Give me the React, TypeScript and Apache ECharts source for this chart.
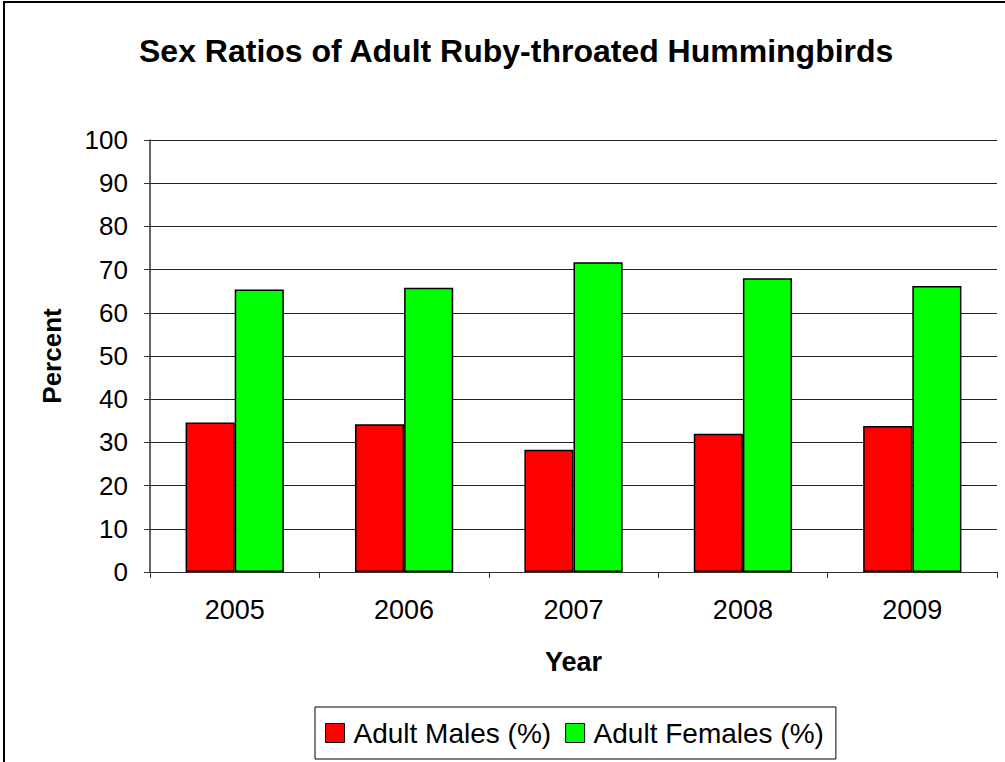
import React, { useEffect, useRef } from "react";
import * as echarts from "echarts";

const years = ["2005", "2006", "2007", "2008", "2009"];
const males = [34.6, 34.2, 28.3, 32.0, 33.8];
const females = [65.4, 65.8, 71.7, 68.0, 66.2];
const seriesNames = ["Adult Males (%)", "Adult Females (%)"];
const FONT = "'Liberation Sans', Arial, sans-serif";

export default function App() {
  const ref = useRef<HTMLDivElement>(null);
  useEffect(() => {
    if (!ref.current) return;
    const chart = echarts.init(ref.current, undefined, { renderer: "svg" });
    chart.setOption({
      animation: false,
      backgroundColor: "#fff",
      textStyle: { fontFamily: FONT },
      title: {
        text: "Sex Ratios of Adult Ruby-throated Hummingbirds",
        left: 134,
        top: 30,
        textStyle: { fontFamily: FONT, fontSize: 32, fontWeight: "bold", color: "#000" },
      },
      graphic: [
        {
          type: "rect",
          shape: { x: 4, y: 2, width: 1020, height: 780 },
          style: { fill: "none", stroke: "#000", lineWidth: 2 },
          silent: true,
        },
      ],
      grid: { left: 150, right: 8, top: 140, bottom: 190 },
      legend: {
        data: seriesNames,
        left: 315,
        top: 707,
        icon: "rect",
        itemWidth: 19,
        itemHeight: 19,
        itemGap: 14,
        padding: [12, 12, 12, 10],
        borderColor: "#000",
        borderWidth: 1,
        itemStyle: { borderColor: "#000", borderWidth: 1 },
        textStyle: { fontFamily: FONT, fontSize: 28, color: "#000", padding: [0, 0, 0, 4] },
      },
      xAxis: {
        type: "category",
        data: years,
        name: "Year",
        nameLocation: "middle",
        nameGap: 76,
        nameTextStyle: { fontFamily: FONT, fontSize: 27, fontWeight: "bold", color: "#000" },
        axisLine: { lineStyle: { color: "#333", width: 1 } },
        axisTick: { show: true, length: 6, lineStyle: { color: "#333" } },
        axisLabel: { fontFamily: FONT, fontSize: 27, color: "#000", margin: 24 },
      },
      yAxis: {
        type: "value",
        min: 0,
        max: 100,
        interval: 10,
        name: "Percent",
        nameLocation: "middle",
        nameGap: 85,
        nameTextStyle: { fontFamily: FONT, fontSize: 26, fontWeight: "bold", color: "#000" },
        axisLine: { show: true, lineStyle: { color: "#333", width: 1.5 } },
        axisTick: { show: true, length: 6, lineStyle: { color: "#333" } },
        axisLabel: { fontFamily: FONT, fontSize: 26, color: "#000", margin: 22 },
        splitLine: { show: true, lineStyle: { color: "#222", width: 1 } },
      },
      series: [
        {
          name: seriesNames[0],
          type: "bar",
          data: males,
          barGap: "0%",
          barCategoryGap: "42%",
          itemStyle: { color: "#ff0000", borderColor: "#000", borderWidth: 1.5 },
        },
        {
          name: seriesNames[1],
          type: "bar",
          data: females,
          barGap: "0%",
          barCategoryGap: "42%",
          itemStyle: { color: "#00ff00", borderColor: "#000", borderWidth: 1.5 },
        },
      ],
    });
    return () => chart.dispose();
  }, []);
  return (
    <div
      ref={ref}
      style={{ position: "fixed", left: 0, top: 0, width: 1005, height: 762 }}
    />
  );
}
